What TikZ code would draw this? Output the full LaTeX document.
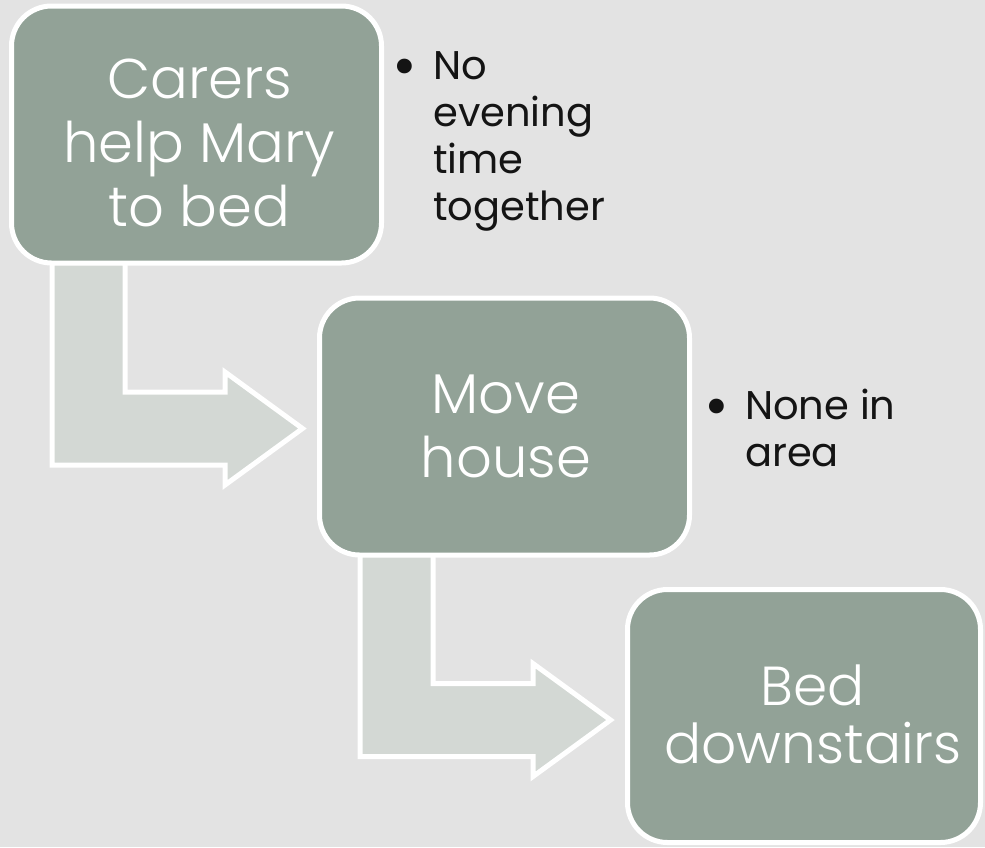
\documentclass[tikz,border=0pt]{standalone}
\usepackage{fontspec}
\setmainfont{Poppins}
\IfFontExistsTF{Poppins Light}
  {\newfontfamily\stepfont{Poppins Light}}
  {\newfontfamily\stepfont{Poppins}}
\usetikzlibrary{calc}

\definecolor{paper}{HTML}{E3E3E3}
\definecolor{boxfill}{HTML}{92A297}
\definecolor{flowfill}{HTML}{D3D8D4}
\definecolor{notetext}{HTML}{141414}

\pgfdeclarelayer{paperlayer}
\pgfdeclarelayer{flowlayer}
\pgfsetlayers{paperlayer,flowlayer,main}

\newcommand{\notebullet}{\llap{\raisebox{-7pt}{\scalebox{1.5}{•}}\hspace{16pt}}}

\tikzset{
  stepbox/.style={draw=white, line width=5pt, fill=boxfill, rounded corners=40pt,
    minimum width=370pt, minimum height=257pt, inner sep=0pt},
  boxtext/.style={text=white, align=center, inner sep=0pt,
    font=\stepfont\fontsize{56}{64}\selectfont},
  notetext/.style={text=notetext, align=left, inner sep=0pt, anchor=north west,
    font=\fontsize{40}{47}\selectfont},
  flow/.style={draw=white, line width=5pt, fill=flowfill, line join=miter},
}

% bent arrow that leaves the bottom of #1 and points at the left side of #2
\newcommand{\bentflow}[2]{%
  \path[flow] let \p1=(#1.south west), \p2=(#2.north west) in
    ({\x1+43pt},{\y1+3pt}) --
    ({\x1+43pt},{\y2-169.5pt}) --
    ({\x2-92pt},{\y2-169.5pt}) --
    ({\x2-92pt},{\y2-189.5pt}) --
    ({\x2-14.5pt},{\y2-133pt}) --
    ({\x2-92pt},{\y2-76.5pt}) --
    ({\x2-92pt},{\y2-96.5pt}) --
    ({\x1+116pt},{\y2-96.5pt}) --
    ({\x1+116pt},{\y1+3pt}) -- cycle;}

\begin{document}
\begin{tikzpicture}[x=1pt,y=-1pt]
  \useasboundingbox (0,0) rectangle (985,847);
  \begin{pgfonlayer}{paperlayer}
    \fill[paper] (0,0) rectangle (985,847);
  \end{pgfonlayer}

  % the three steps
  \node[stepbox] (b1) at (196.5,134.5) {};
  \node[stepbox] (b2) at (504.5,426.5) {};
  \node[stepbox, minimum width=353pt, minimum height=253pt] (b3) at (804,716) {};

  \node[boxtext] (t1) at ($(b1.center)+(3,8)$) {Carers\\help Mary\\to bed};
  \node[boxtext] (t2) at ($(b2.center)+(1.5,0)$) {Move\\house};
  \node[boxtext, font=\stepfont\fontsize{55}{58}\selectfont] (t3) at ($(b3.center)+(9,-2)$) {Bed\\downstairs};

  % side notes
  \node[notetext] (n1) at (433,51) {\notebullet No\\evening\\time\\together};
  \node[notetext] (n2) at (745,389) {\notebullet None in\\area};

  % connectors between the steps
  \begin{pgfonlayer}{flowlayer}
    \bentflow{b1}{b2}
    \bentflow{b2}{b3}
  \end{pgfonlayer}
\end{tikzpicture}
\end{document}
